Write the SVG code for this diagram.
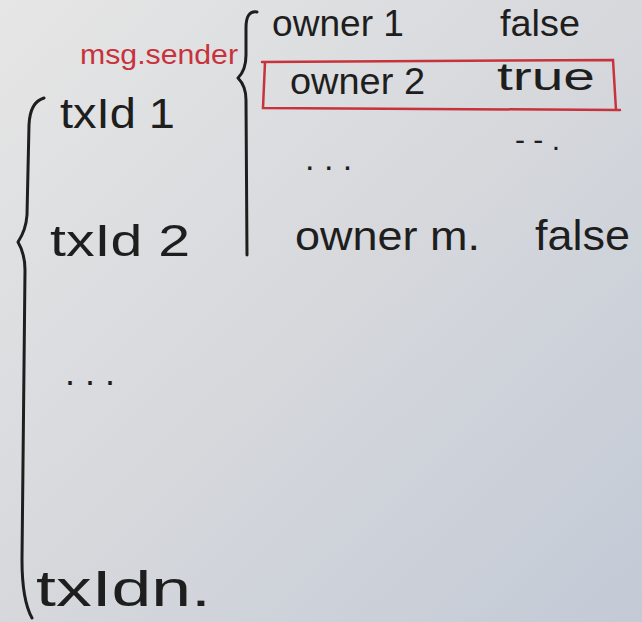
<svg xmlns="http://www.w3.org/2000/svg" width="642" height="622" viewBox="0 0 642 622">
<defs>
<linearGradient id="paper" x1="0" y1="0" x2="1" y2="1">
<stop offset="0" stop-color="#e6e6e6"/>
<stop offset="0.5" stop-color="#d6d8dc"/>
<stop offset="1" stop-color="#c3cad6"/>
</linearGradient>
<style>
.ink{font-family:"Liberation Sans","DejaVu Sans",sans-serif;fill:#1e1e1e}
.red{font-family:"Liberation Sans","DejaVu Sans",sans-serif;fill:#c8323c}
.stroke{fill:none;stroke:#1e1e1e;stroke-width:3;stroke-linecap:round;stroke-linejoin:round}
.rstroke{fill:none;stroke:#c8323c;stroke-width:2.5;stroke-linecap:round}
</style>
</defs>
<rect width="642" height="622" fill="url(#paper)"/>
<g id="connectors">
<path class="stroke" d="M257 12 Q246 10 246 28 L246 55 Q246 70 238 78 Q246 86 246 100 L247 255"/>
<path class="stroke" d="M44 98 Q30 102 29 125 L27 215 Q26 230 18 242 Q25 254 25 270 L22 560 Q22 600 32 618"/>
</g>
<g id="sender">
<text class="red" x="80" y="64" font-size="27" textLength="158" lengthAdjust="spacingAndGlyphs">msg.sender</text>
</g>
<g id="owner1">
<text class="ink" x="272" y="36" font-size="36" textLength="132" lengthAdjust="spacingAndGlyphs">owner 1</text>
<text class="ink" x="500" y="36" font-size="36" textLength="80" lengthAdjust="spacingAndGlyphs">false</text>
</g>
<g id="owner2">
<path class="rstroke" d="M262 62 L613 60 L616 110 M265 62 L263 108 L620 110"/>
<text class="ink" x="290" y="94" font-size="36" textLength="135" lengthAdjust="spacingAndGlyphs">owner 2</text>
<text class="ink" x="497" y="90" font-size="38" textLength="98" lengthAdjust="spacingAndGlyphs">true</text>
</g>
<g id="ownerdots">
<text class="ink" x="515" y="150" font-size="30">- - .</text>
<text class="ink" x="305" y="170" font-size="34">. . .</text>
</g>
<g id="ownerm">
<text class="ink" x="295" y="250" font-size="40" textLength="185" lengthAdjust="spacingAndGlyphs">owner m.</text>
<text class="ink" x="535" y="250" font-size="42" textLength="95" lengthAdjust="spacingAndGlyphs">false</text>
</g>
<g id="txId1">
<text class="ink" x="60" y="128" font-size="42" textLength="115" lengthAdjust="spacingAndGlyphs">txId 1</text>
</g>
<g id="txId2">
<text class="ink" x="50" y="256" font-size="44" textLength="140" lengthAdjust="spacingAndGlyphs">txId 2</text>
</g>
<g id="txdots">
<text class="ink" x="65" y="385" font-size="36">. . .</text>
</g>
<g id="txIdn">
<text class="ink" x="36" y="606" font-size="50" textLength="175" lengthAdjust="spacingAndGlyphs">txIdn.</text>
</g>
</svg>
